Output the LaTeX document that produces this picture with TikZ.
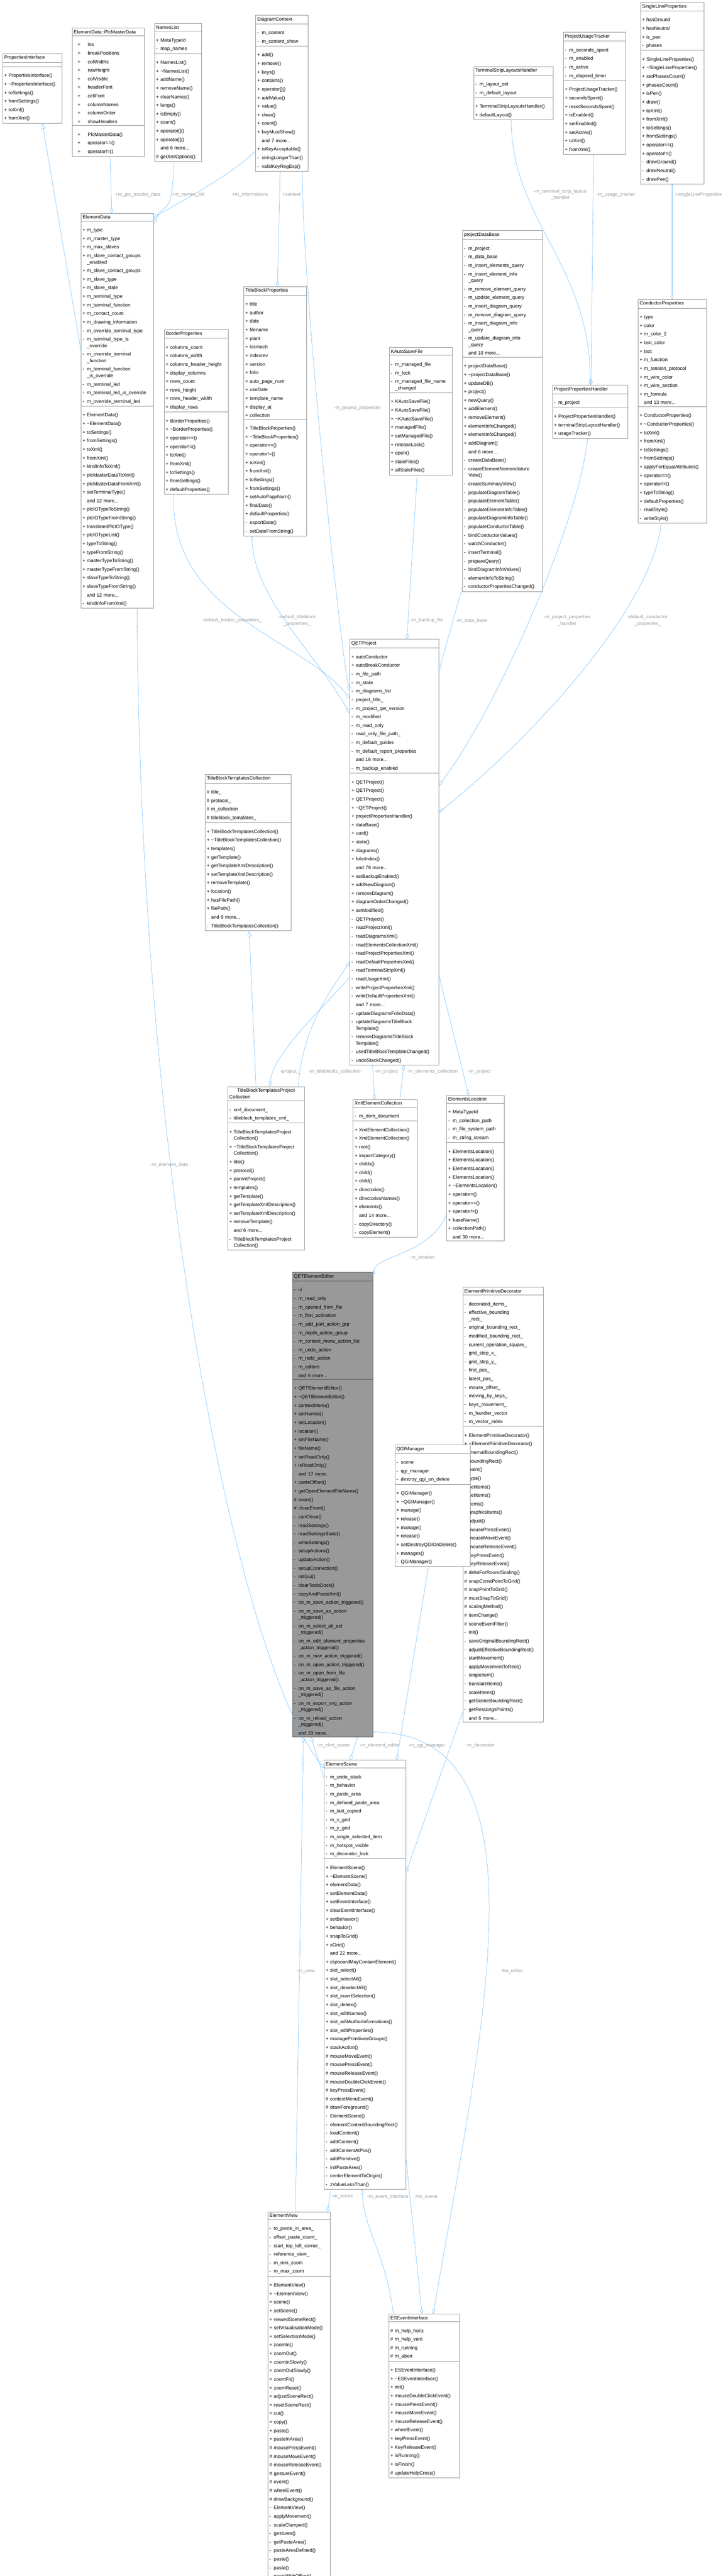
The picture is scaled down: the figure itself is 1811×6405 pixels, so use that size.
\documentclass[tikz,border=0pt]{standalone}
\usepackage{fontspec}
\setmainfont{Liberation Sans}
\usetikzlibrary{shapes.multipart,arrows.meta}
\definecolor{boxgray}{HTML}{999999}
\definecolor{curfill}{HTML}{999999}
\definecolor{curdraw}{HTML}{666666}
\definecolor{edgeblue}{HTML}{63B8FF}
\definecolor{lblgray}{HTML}{9A9A9A}
\setlength\parindent{0pt}
\setlength\parskip{0pt}
\newcommand\clsfont{\fontsize{12}{21.3}\selectfont}
\newcommand\mb[2]{\par\makebox[11pt][l]{#1}#2}
\newcommand\mw[3]{\par\makebox[11pt][l]{#1}#2\par\vspace{-5.3pt}\hspace*{11pt}#3}
\newcommand\mbi[2]{\par\hspace*{10pt}\makebox[25pt][l]{#1}#2}
\newcommand\andmore[1]{\par\hspace*{11pt}and #1 more...}
\tikzset{
  cls/.style={draw=boxgray, fill=white, line width=0.8pt, rectangle split, rectangle split parts=3,
    anchor=north west, inner xsep=4pt, inner ysep=4.8pt, font=\clsfont, text width=#1},
  cur/.style={cls=#1, fill=curfill, draw=curdraw},
  agg/.style={draw=edgeblue, line width=0.7pt, {Diamond[open,length=14pt,width=8pt]}-},
  inh/.style={draw=edgeblue, line width=0.7pt, -{Triangle[open,length=14pt,width=10pt]}},
  lbl/.style={font=\fontsize{12}{15.5}\selectfont, text=lblgray, align=center, inner sep=1pt}
}
\begin{document}
\begin{tikzpicture}[x=1pt,y=-1pt]
\useasboundingbox (0,0) rectangle (1811,6405);
% top row
\node[cls=140pt] (pi) at (6,133) {\centering PropertiesInterface
  \nodepart{two}\mbox{}
  \nodepart{three}\mb{+}{PropertiesInterface()}\mb{+}{\textasciitilde PropertiesInterface()}\mb{+}{toSettings()}\mb{+}{fromSettings()}\mb{+}{toXml()}\mb{+}{fromXml()}};
\node[cls=172pt] (pmd) at (179,69) {\centering ElementData::PlcMasterData
  \nodepart{two}\mbi{+}{ios}\mbi{+}{breakPositions}\mbi{+}{colWidths}\mbi{+}{rowHeight}\mbi{+}{colVisible}\mbi{+}{headerFont}\mbi{+}{cellFont}\mbi{+}{columnNames}\mbi{+}{columnOrder}\mbi{+}{showHeaders}
  \nodepart{three}\mbi{+}{PlcMasterData()}\mbi{+}{operator==()}\mbi{+}{operator!=()}};
\node[cls=109pt] (nl) at (384,58) {\centering NamesList
  \nodepart{two}\mb{+}{MetaTypeId}\mb{-}{map\_names}
  \nodepart{three}\mb{+}{NamesList()}\mb{+}{\textasciitilde NamesList()}\mb{+}{addName()}\mb{+}{removeName()}\mb{+}{clearNames()}\mb{+}{langs()}\mb{+}{isEmpty()}\mb{+}{count()}\mb{+}{operator[]()}\mb{+}{operator[]()}\andmore{6}\mb{\#}{getXmlOptions()}};
\node[cls=122pt] (dc) at (636,37) {\centering DiagramContext
  \nodepart{two}\mb{-}{m\_content}\mb{-}{m\_content\_show}
  \nodepart{three}\mb{+}{add()}\mb{+}{remove()}\mb{+}{keys()}\mb{+}{contains()}\mb{+}{operator[]()}\mb{+}{addValue()}\mb{+}{value()}\mb{+}{clear()}\mb{+}{count()}\mb{+}{keyMustShow()}\andmore{7}\mb{+}{isKeyAcceptable()}\mb{-}{stringLongerThan()}\mb{-}{validKeyRegExp()}};
\node[cls=190pt] (tslh) at (1178,165) {\centering TerminalStripLayoutsHandler
  \nodepart{two}\mb{-}{m\_layout\_set}\mb{-}{m\_default\_layout}
  \nodepart{three}\mb{+}{TerminalStripLayoutsHandler()}\mb{+}{defaultLayout()}};
\node[cls=147pt] (put) at (1401,80) {\centering ProjectUsageTracker
  \nodepart{two}\mb{-}{m\_seconds\_spent}\mb{-}{m\_enabled}\mb{-}{m\_active}\mb{-}{m\_elapsed\_timer}
  \nodepart{three}\mb{+}{ProjectUsageTracker()}\mb{+}{secondsSpent()}\mb{+}{resetSecondsSpent()}\mb{+}{isEnabled()}\mb{+}{setEnabled()}\mb{+}{setActive()}\mb{+}{toXml()}\mb{+}{fromXml()}};
\node[cls=150pt] (slp) at (1593,5) {\centering SingleLineProperties
  \nodepart{two}\mb{+}{hasGround}\mb{+}{hasNeutral}\mb{+}{is\_pen}\mb{-}{phases}
  \nodepart{three}\mb{+}{SingleLineProperties()}\mb{+}{\textasciitilde SingleLineProperties()}\mb{+}{setPhasesCount()}\mb{+}{phasesCount()}\mb{+}{isPen()}\mb{+}{draw()}\mb{+}{toXml()}\mb{+}{fromXml()}\mb{+}{toSettings()}\mb{+}{fromSettings()}\mb{+}{operator==()}\mb{+}{operator!=()}\mb{-}{drawGround()}\mb{-}{drawNeutral()}\mb{-}{drawPen()}};
% second row
\node[cls=173pt] (ed) at (201,530) {\centering ElementData
  \nodepart{two}\mb{+}{m\_type}\mb{+}{m\_master\_type}\mb{+}{m\_max\_slaves}\mw{+}{m\_slave\_contact\_groups}{\_enabled}\mb{+}{m\_slave\_contact\_groups}\mb{+}{m\_slave\_type}\mb{+}{m\_slave\_state}\mb{+}{m\_terminal\_type}\mb{+}{m\_terminal\_function}\mb{+}{m\_contact\_count}\mb{+}{m\_drawing\_information}\mb{-}{m\_override\_terminal\_type}\mw{-}{m\_terminal\_type\_is}{\_override}\mw{-}{m\_override\_terminal}{\_function}\mw{-}{m\_terminal\_function}{\_is\_override}\mb{-}{m\_terminal\_led}\mb{-}{m\_terminal\_led\_is\_override}\mb{-}{m\_override\_terminal\_led}
  \nodepart{three}\mb{+}{ElementData()}\mb{+}{\textasciitilde ElementData()}\mb{+}{toSettings()}\mb{+}{fromSettings()}\mb{+}{toXml()}\mb{+}{fromXml()}\mb{+}{kindInfoToXml()}\mb{+}{plcMasterDataToXml()}\mb{+}{plcMasterDataFromXml()}\mb{+}{setTerminalType()}\andmore{12}\mb{+}{plcIOTypeToString()}\mb{+}{plcIOTypeFromString()}\mb{+}{translatedPlcIOType()}\mb{+}{plcIOTypeList()}\mb{+}{typeToString()}\mb{+}{typeFromString()}\mb{+}{masterTypeToString()}\mb{+}{masterTypeFromString()}\mb{+}{slaveTypeToString()}\mb{+}{slaveTypeFromString()}\andmore{12}\mb{-}{kindInfoFromXml()}};
\node[cls=191pt] (pdb) at (1150,573) {\centering projectDataBase
  \nodepart{two}\mb{-}{m\_project}\mb{-}{m\_data\_base}\mb{-}{m\_insert\_elements\_query}\mw{-}{m\_insert\_element\_info}{\_query}\mb{-}{m\_remove\_element\_query}\mb{-}{m\_update\_element\_query}\mb{-}{m\_insert\_diagram\_query}\mb{-}{m\_remove\_diagram\_query}\mw{-}{m\_insert\_diagram\_info}{\_query}\mw{-}{m\_update\_diagram\_info}{\_query}\andmore{10}
  \nodepart{three}\mb{+}{projectDataBase()}\mb{+}{\textasciitilde projectDataBase()}\mb{+}{updateDB()}\mb{+}{project()}\mb{+}{newQuery()}\mb{+}{addElement()}\mb{+}{removeElement()}\mb{+}{elementInfoChanged()}\mb{+}{elementInfoChanged()}\mb{+}{addDiagram()}\andmore{6}\mb{-}{createDataBase()}\mw{-}{createElementNomenclature}{View()}\mb{-}{createSummaryView()}\mb{-}{populateDiagramTable()}\mb{-}{populateElementTable()}\mb{-}{populateElementInfoTable()}\mb{-}{populateDiagramInfoTable()}\mb{-}{populateConductorTable()}\mb{-}{bindConductorValues()}\mb{-}{watchConductor()}\mb{-}{insertTerminal()}\mb{-}{prepareQuery()}\mb{-}{bindDiagramInfoValues()}\mb{-}{elementInfoToString()}\mb{-}{conductorPropertiesChanged()}};
\node[cls=152pt] (bp) at (408,819) {\centering BorderProperties
  \nodepart{two}\mb{+}{columns\_count}\mb{+}{columns\_width}\mb{+}{columns\_header\_height}\mb{+}{display\_columns}\mb{+}{rows\_count}\mb{+}{rows\_height}\mb{+}{rows\_header\_width}\mb{+}{display\_rows}
  \nodepart{three}\mb{+}{BorderProperties()}\mb{+}{\textasciitilde BorderProperties()}\mb{+}{operator==()}\mb{+}{operator!=()}\mb{+}{toXml()}\mb{+}{fromXml()}\mb{+}{toSettings()}\mb{+}{fromSettings()}\mb{+}{defaultProperties()}};
\node[cls=148pt] (tbp) at (606,712) {\centering TitleBlockProperties
  \nodepart{two}\mb{+}{title}\mb{+}{author}\mb{+}{date}\mb{+}{filename}\mb{+}{plant}\mb{+}{locmach}\mb{+}{indexrev}\mb{+}{version}\mb{+}{folio}\mb{+}{auto\_page\_num}\mb{+}{useDate}\mb{+}{template\_name}\mb{+}{display\_at}\mb{+}{collection}
  \nodepart{three}\mb{+}{TitleBlockProperties()}\mb{+}{\textasciitilde TitleBlockProperties()}\mb{+}{operator==()}\mb{+}{operator!=()}\mb{+}{toXml()}\mb{+}{fromXml()}\mb{+}{toSettings()}\mb{+}{fromSettings()}\mb{+}{setAutoPageNum()}\mb{+}{finalDate()}\mb{+}{defaultProperties()}\mb{-}{exportDate()}\mb{-}{setDateFromString()}};
\node[cls=149pt] (kasf) at (968,864) {\centering KAutoSaveFile
  \nodepart{two}\mb{-}{m\_managed\_file}\mb{-}{m\_lock}\mw{-}{m\_managed\_file\_name}{\_changed}
  \nodepart{three}\mb{+}{KAutoSaveFile()}\mb{+}{KAutoSaveFile()}\mb{+}{\textasciitilde KAutoSaveFile()}\mb{+}{managedFile()}\mb{+}{setManagedFile()}\mb{+}{releaseLock()}\mb{+}{open()}\mb{+}{staleFiles()}\mb{+}{allStaleFiles()}};
\node[cls=180pt] (pph) at (1374,957) {\centering ProjectPropertiesHandler
  \nodepart{two}\mb{-}{m\_project}
  \nodepart{three}\mb{+}{ProjectPropertiesHandler()}\mb{+}{terminalStripLayoutHandler()}\mb{+}{usageTracker()}};
\node[cls=162pt] (cp) at (1587,744) {\centering ConductorProperties
  \nodepart{two}\mb{+}{type}\mb{+}{color}\mb{+}{m\_color\_2}\mb{+}{text\_color}\mb{+}{text}\mb{+}{m\_function}\mb{+}{m\_tension\_protocol}\mb{+}{m\_wire\_color}\mb{+}{m\_wire\_section}\mb{+}{m\_formula}\andmore{13}
  \nodepart{three}\mb{+}{ConductorProperties()}\mb{+}{\textasciitilde ConductorProperties()}\mb{+}{toXml()}\mb{+}{fromXml()}\mb{+}{toSettings()}\mb{+}{fromSettings()}\mb{+}{applyForEqualAttributes()}\mb{+}{operator==()}\mb{+}{operator!=()}\mb{+}{typeToString()}\mb{+}{defaultProperties()}\mb{-}{readStyle()}\mb{-}{writeStyle()}};
% project
\node[cls=214pt] (qp) at (870,1589) {\centering QETProject
  \nodepart{two}\mb{+}{autoConductor}\mb{+}{autoBreakConductor}\mb{-}{m\_file\_path}\mb{-}{m\_state}\mb{-}{m\_diagrams\_list}\mb{-}{project\_title\_}\mb{-}{m\_project\_qet\_version}\mb{-}{m\_modified}\mb{-}{m\_read\_only}\mb{-}{read\_only\_file\_path\_}\mb{-}{m\_default\_guides}\mb{-}{m\_default\_report\_properties}\andmore{16}\mb{-}{m\_backup\_enabled}
  \nodepart{three}\mb{+}{QETProject()}\mb{+}{QETProject()}\mb{+}{QETProject()}\mb{+}{\textasciitilde QETProject()}\mb{+}{projectPropertiesHandler()}\mb{+}{dataBase()}\mb{+}{uuid()}\mb{+}{state()}\mb{+}{diagrams()}\mb{+}{folioIndex()}\andmore{79}\mb{+}{setBackupEnabled()}\mb{+}{addNewDiagram()}\mb{+}{removeDiagram()}\mb{+}{diagramOrderChanged()}\mb{+}{setModified()}\mb{-}{QETProject()}\mb{-}{readProjectXml()}\mb{-}{readDiagramsXml()}\mb{-}{readElementsCollectionXml()}\mb{-}{readProjectPropertiesXml()}\mb{-}{readDefaultPropertiesXml()}\mb{-}{readTerminalStripXml()}\mb{-}{readUsageXml()}\mb{-}{writeProjectPropertiesXml()}\mb{-}{writeDefaultPropertiesXml()}\andmore{7}\mb{-}{updateDiagramsFolioData()}\mw{-}{updateDiagramsTitleBlock}{Template()}\mw{-}{removeDiagramsTitleBlock}{Template()}\mb{-}{usedTitleBlockTemplateChanged()}\mb{-}{undoStackChanged()}};
\node[cls=206pt] (tbtc) at (510,1925) {\centering TitleBlockTemplatesCollection
  \nodepart{two}\mb{\#}{title\_}\mb{\#}{protocol\_}\mb{\#}{m\_collection}\mb{\#}{titleblock\_templates\_}
  \nodepart{three}\mb{+}{TitleBlockTemplatesCollection()}\mb{+}{\textasciitilde TitleBlockTemplatesCollection()}\mb{+}{templates()}\mb{+}{getTemplate()}\mb{+}{getTemplateXmlDescription()}\mb{+}{setTemplateXmlDescription()}\mb{+}{removeTemplate()}\mb{+}{location()}\mb{+}{hasFilePath()}\mb{+}{filePath()}\andmore{9}\mb{-}{TitleBlockTemplatesCollection()}};
\node[cls=183pt] (tbtpc) at (566,2701) {\centering TitleBlockTemplatesProject\par\vspace{-5.3pt}Collection
  \nodepart{two}\mb{-}{xml\_document\_}\mb{-}{titleblock\_templates\_xml\_}
  \nodepart{three}\mw{+}{TitleBlockTemplatesProject}{Collection()}\mw{+}{\textasciitilde TitleBlockTemplatesProject}{Collection()}\mb{+}{title()}\mb{+}{protocol()}\mb{+}{parentProject()}\mb{+}{templates()}\mb{+}{getTemplate()}\mb{+}{getTemplateXmlDescription()}\mb{+}{setTemplateXmlDescription()}\mb{+}{removeTemplate()}\andmore{6}\mw{-}{TitleBlockTemplatesProject}{Collection()}};
\node[cls=151pt] (xec) at (878,2733) {\centering XmlElementCollection
  \nodepart{two}\mb{-}{m\_dom\_document}
  \nodepart{three}\mb{+}{XmlElementCollection()}\mb{+}{XmlElementCollection()}\mb{+}{root()}\mb{+}{importCategory()}\mb{+}{childs()}\mb{+}{child()}\mb{+}{child()}\mb{+}{directories()}\mb{+}{directoriesNames()}\mb{+}{elements()}\andmore{14}\mb{-}{copyDirectory()}\mb{-}{copyElement()}};
\node[cls=135pt] (el) at (1111,2723) {\centering ElementsLocation
  \nodepart{two}\mb{+}{MetaTypeId}\mb{-}{m\_collection\_path}\mb{-}{m\_file\_system\_path}\mb{-}{m\_string\_stream}
  \nodepart{three}\mb{+}{ElementsLocation()}\mb{+}{ElementsLocation()}\mb{+}{ElementsLocation()}\mb{+}{ElementsLocation()}\mb{+}{\textasciitilde ElementsLocation()}\mb{+}{operator=()}\mb{+}{operator==()}\mb{+}{operator!=()}\mb{+}{baseName()}\mb{+}{collectionPath()}\andmore{30}};
% editor
\node[cur=192pt] (qee) at (727,3163) {\centering QETElementEditor
  \nodepart{two}\mb{-}{ui}\mb{-}{m\_read\_only}\mb{-}{m\_opened\_from\_file}\mb{-}{m\_first\_activation}\mb{-}{m\_add\_part\_action\_grp}\mb{-}{m\_depth\_action\_group}\mb{-}{m\_context\_menu\_action\_list}\mb{-}{m\_undo\_action}\mb{-}{m\_redo\_action}\mb{-}{m\_editors}\andmore{6}
  \nodepart{three}\mb{+}{QETElementEditor()}\mb{+}{\textasciitilde QETElementEditor()}\mb{+}{contextMenu()}\mb{+}{setNames()}\mb{+}{setLocation()}\mb{+}{location()}\mb{+}{setFileName()}\mb{+}{fileName()}\mb{+}{setReadOnly()}\mb{+}{isReadOnly()}\andmore{17}\mb{+}{pasteOffset()}\mb{+}{getOpenElementFileName()}\mb{\#}{event()}\mb{\#}{closeEvent()}\mb{-}{canClose()}\mb{-}{readSettings()}\mb{-}{readSettingsState()}\mb{-}{writeSettings()}\mb{-}{setupActions()}\mb{-}{updateAction()}\mb{-}{setupConnection()}\mb{-}{initGui()}\mb{-}{clearToolsDock()}\mb{-}{copyAndPasteXml()}\mb{-}{on\_m\_save\_action\_triggered()}\mw{-}{on\_m\_save\_as\_action}{\_triggered()}\mw{-}{on\_m\_select\_all\_act}{\_triggered()}\mw{-}{on\_m\_edit\_element\_properties}{\_action\_triggered()}\mb{-}{on\_m\_new\_action\_triggered()}\mb{-}{on\_m\_open\_action\_triggered()}\mw{-}{on\_m\_open\_from\_file}{\_action\_triggered()}\mw{-}{on\_m\_save\_as\_file\_action}{\_triggered()}\mw{-}{on\_m\_export\_svg\_action}{\_triggered()}\mw{-}{on\_m\_reload\_action}{\_triggered()}\andmore{23}};
\node[cls=192pt] (epd) at (1151,3200) {\centering ElementPrimitiveDecorator
  \nodepart{two}\mb{-}{decorated\_items\_}\mw{-}{effective\_bounding}{\_rect\_}\mb{-}{original\_bounding\_rect\_}\mb{-}{modified\_bounding\_rect\_}\mb{-}{current\_operation\_square\_}\mb{-}{grid\_step\_x\_}\mb{-}{grid\_step\_y\_}\mb{-}{first\_pos\_}\mb{-}{latest\_pos\_}\mb{-}{mouse\_offset\_}\mb{-}{moving\_by\_keys\_}\mb{-}{keys\_movement\_}\mb{-}{m\_handler\_vector}\mb{-}{m\_vector\_index}
  \nodepart{three}\mb{+}{ElementPrimitiveDecorator()}\mb{+}{\textasciitilde ElementPrimitiveDecorator()}\mb{+}{internalBoundingRect()}\mb{+}{boundingRect()}\mb{+}{paint()}\mb{+}{type()}\mb{+}{setItems()}\mb{+}{setItems()}\mb{+}{items()}\mb{+}{graphicsItems()}\mb{+}{adjust()}\mb{\#}{mousePressEvent()}\mb{\#}{mouseMoveEvent()}\mb{\#}{mouseReleaseEvent()}\mb{\#}{keyPressEvent()}\mb{\#}{keyReleaseEvent()}\mb{\#}{deltaForRoundScaling()}\mb{\#}{snapConstPointToGrid()}\mb{\#}{snapPointToGrid()}\mb{\#}{mustSnapToGrid()}\mb{\#}{scalingMethod()}\mb{\#}{itemChange()}\mb{\#}{sceneEventFilter()}\mb{-}{init()}\mb{-}{saveOriginalBoundingRect()}\mb{-}{adjustEffectiveBoundingRect()}\mb{-}{startMovement()}\mb{-}{applyMovementToRect()}\mb{-}{singleItem()}\mb{-}{translateItems()}\mb{-}{scaleItems()}\mb{-}{getSceneBoundingRect()}\mb{-}{getResizingsPoints()}\andmore{6}};
\node[cls=179pt] (qgim) at (982,3592) {\centering QGIManager
  \nodepart{two}\mb{-}{scene}\mb{-}{qgi\_manager}\mb{-}{destroy\_qgi\_on\_delete}
  \nodepart{three}\mb{+}{QGIManager()}\mb{+}{\textasciitilde QGIManager()}\mb{+}{manage()}\mb{+}{release()}\mb{+}{manage()}\mb{+}{release()}\mb{+}{setDestroyQGIOnDelete()}\mb{+}{manages()}\mb{-}{QGIManager()}};
\node[cls=195pt] (es) at (806,4376) {\centering ElementScene
  \nodepart{two}\mb{-}{m\_undo\_stack}\mb{-}{m\_behavior}\mb{-}{m\_paste\_area}\mb{-}{m\_defined\_paste\_area}\mb{-}{m\_last\_copied}\mb{-}{m\_x\_grid}\mb{-}{m\_y\_grid}\mb{-}{m\_single\_selected\_item}\mb{-}{m\_hotspot\_visible}\mb{-}{m\_decorator\_lock}
  \nodepart{three}\mb{+}{ElementScene()}\mb{+}{\textasciitilde ElementScene()}\mb{+}{elementData()}\mb{+}{setElementData()}\mb{+}{setEventInterface()}\mb{+}{clearEventInterface()}\mb{+}{setBehavior()}\mb{+}{behavior()}\mb{+}{snapToGrid()}\mb{+}{xGrid()}\andmore{22}\mb{+}{clipboardMayContainElement()}\mb{+}{slot\_select()}\mb{+}{slot\_selectAll()}\mb{+}{slot\_deselectAll()}\mb{+}{slot\_invertSelection()}\mb{+}{slot\_delete()}\mb{+}{slot\_editNames()}\mb{+}{slot\_editAuthorInformations()}\mb{+}{slot\_editProperties()}\mb{+}{managePrimitivesGroups()}\mb{+}{stackAction()}\mb{\#}{mouseMoveEvent()}\mb{\#}{mousePressEvent()}\mb{\#}{mouseReleaseEvent()}\mb{\#}{mouseDoubleClickEvent()}\mb{\#}{keyPressEvent()}\mb{\#}{contextMenuEvent()}\mb{\#}{drawForeground()}\mb{-}{ElementScene()}\mb{-}{elementContentBoundingRect()}\mb{-}{loadContent()}\mb{-}{addContent()}\mb{-}{addContentAtPos()}\mb{-}{addPrimitive()}\mb{-}{initPasteArea()}\mb{-}{centerElementToOrigin()}\mb{-}{zValueLessThan()}};
\node[cls=147pt] (ev) at (666,5499) {\centering ElementView
  \nodepart{two}\mb{-}{to\_paste\_in\_area\_}\mb{-}{offset\_paste\_count\_}\mb{-}{start\_top\_left\_corner\_}\mb{-}{reference\_view\_}\mb{-}{m\_min\_zoom}\mb{-}{m\_max\_zoom}
  \nodepart{three}\mb{+}{ElementView()}\mb{+}{\textasciitilde ElementView()}\mb{+}{scene()}\mb{+}{setScene()}\mb{+}{viewedSceneRect()}\mb{+}{setVisualisationMode()}\mb{+}{setSelectionMode()}\mb{+}{zoomIn()}\mb{+}{zoomOut()}\mb{+}{zoomInSlowly()}\mb{+}{zoomOutSlowly()}\mb{+}{zoomFit()}\mb{+}{zoomReset()}\mb{+}{adjustSceneRect()}\mb{+}{resetSceneRect()}\mb{+}{cut()}\mb{+}{copy()}\mb{+}{paste()}\mb{+}{pasteInArea()}\mb{\#}{mousePressEvent()}\mb{\#}{mouseMoveEvent()}\mb{\#}{mouseReleaseEvent()}\mb{\#}{gestureEvent()}\mb{\#}{event()}\mb{\#}{wheelEvent()}\mb{\#}{drawBackground()}\mb{-}{ElementView()}\mb{-}{applyMovement()}\mb{-}{scaleClamped()}\mb{-}{gestures()}\mb{-}{getPasteArea()}\mb{-}{pasteAreaDefined()}\mb{-}{paste()}\mb{-}{paste()}\mb{-}{pasteWithOffset()}};
\node[cls=167pt] (esei) at (967,5753) {\centering ESEventInterface
  \nodepart{two}\mb{\#}{m\_help\_horiz}\mb{\#}{m\_help\_verti}\mb{\#}{m\_running}\mb{\#}{m\_abort}
  \nodepart{three}\mb{+}{ESEventInterface()}\mb{+}{\textasciitilde ESEventInterface()}\mb{+}{init()}\mb{+}{mouseDoubleClickEvent()}\mb{+}{mousePressEvent()}\mb{+}{mouseMoveEvent()}\mb{+}{mouseReleaseEvent()}\mb{+}{wheelEvent()}\mb{+}{keyPressEvent()}\mb{+}{KeyReleaseEvent()}\mb{+}{isRunning()}\mb{+}{isFinish()}\mb{\#}{updateHelpCross()}};
% connectors
\draw[inh] ([shift={(0,340)}]ed.north west) -- ([xshift=25pt]pi.south);
\draw[agg] ([shift={(77,0)}]ed.north west) -- ([shift={(95,0)}]pmd.south west);
\draw[agg] ([shift={(0,26)}]ed.north east) .. controls +(25,-60) and +(-5,150) .. ([shift={(49,0)}]nl.south west);
\draw[agg] ([shift={(0,10)}]ed.north east) .. controls +(70,-40) and +(-60,60) .. ([shift={(0,338)}]dc.north west);
\draw[agg] ([xshift=6pt]tbp.north) -- ([shift={(61,0)}]dc.south west);
\draw[agg] ([shift={(0,128)}]qp.north west) .. controls +(-20,-80) and +(0,300) .. ([shift={(116,0)}]dc.south west);
\draw[agg] ([shift={(0,147)}]qp.north west) .. controls +(-120,-150) and +(-10,300) .. ([shift={(24,0)}]bp.south west);
\draw[agg] ([shift={(0,184)}]qp.north west) .. controls +(-100,-170) and +(0,150) .. ([shift={(21,0)}]tbp.south west);
\draw[agg] ([xshift=31pt]qp.north) -- ([shift={(70,0)}]kasf.south west);
\draw[agg] ([shift={(0,77)}]qp.north east) -- ([shift={(0,-10)}]pdb.south west);
\draw[agg] ([shift={(0,363)}]qp.north east) .. controls +(150,-200) and +(-20,200) .. ([shift={(88,0)}]pph.south west);
\draw[agg] ([shift={(0,430)}]qp.north east) .. controls +(250,-200) and +(-20,200) .. ([shift={(58,0)}]cp.south west);
\draw[agg] (pph.north) .. controls +(0,-300) and +(0,250) .. ([shift={(94,0)}]tslh.south west);
\draw[agg] ([xshift=2pt]pph.north) -- ([shift={(76,0)}]put.south west);
\draw[agg] (cp.north) -- (slp.south);
\draw[agg] ([shift={(0,20)}]es.north west) .. controls +(-200,-250) and +(10,1500) .. ([shift={(140,0)}]ed.south west);
\draw[agg] ([shift={(0,803)}]qp.north west) .. controls +(-40,60) and +(10,-150) .. ([shift={(176,0)}]tbtpc.north west);
\draw[agg] ([shift={(105,0)}]tbtpc.north west) .. controls +(10,-80) and +(-90,100) .. ([shift={(0,841)}]qp.north west);
\draw[inh] ([shift={(71,0)}]tbtpc.north west) -- ([shift={(110,0)}]tbtc.south west);
\draw[agg] ([shift={(54,0)}]xec.north west) -- ([shift={(57,0)}]qp.south west);
\draw[agg] ([shift={(135,0)}]qp.south west) -- ([shift={(117,0)}]xec.north west);
\draw[agg] ([shift={(55,0)}]el.north west) -- ([shift={(0,838)}]qp.north east);
\draw[agg] ([shift={(0,8)}]qee.north east) .. controls +(10,-50) and +(-40,100) .. ([shift={(0,296)}]el.north west);
\draw[agg] ([shift={(28,0)}]qee.south west) -- ([shift={(69,0)}]ev.north west);
\draw[agg] ([shift={(47,0)}]qee.south west) -- ([shift={(0,44)}]es.north west);
\draw[agg] ([shift={(65,0)}]es.north west) -- ([shift={(163,0)}]qee.south west);
\draw[agg] ([shift={(181,0)}]es.north west) -- ([shift={(84,0)}]qgim.south west);
\draw[agg] ([shift={(0,281)}]es.north east) -- ([shift={(0,-25)}]epd.south west);
\draw[agg] ([shift={(111,0)}]esei.north west) .. controls +(120,-700) and +(450,0) .. ([shift={(0,-13)}]qee.south east);
\draw[agg] ([shift={(83,0)}]esei.north west) -- ([shift={(0,-83)}]es.south east);
\draw[agg] ([shift={(95,0)}]es.south west) .. controls +(5,100) and +(-20,-150) .. ([shift={(12,0)}]esei.north west);
\draw[agg] ([shift={(-7,0)}]ev.north east) -- ([shift={(18,0)}]es.south west);
% labels
\node[lbl] (l1) at (343,484) {+m\_plc\_master\_data};
\node[lbl] (l2) at (468,484) {+m\_names\_list};
\node[lbl] (l3) at (622,484) {+m\_informations};
\node[lbl] (l4) at (725,484) {+context};
\node[lbl] (l5) at (1394,484) {-m\_terminal\_strip\_layout\\\_handler};
\node[lbl] (l6) at (1532,484) {-m\_usage\_tracker};
\node[lbl] (l7) at (1738,484) {+singleLineProperties};
\node[lbl] (l8) at (889,1014) {-m\_project\_properties};
\node[lbl] (l9) at (577,1543) {-default\_border\_properties\_};
\node[lbl] (l10) at (739,1543) {-default\_titleblock\\\_properties\_};
\node[lbl] (l11) at (1062,1543) {-m\_backup\_file};
\node[lbl] (l12) at (1174,1543) {-m\_data\_base};
\node[lbl] (l13) at (1411,1543) {-m\_project\_properties\\\_handler};
\node[lbl] (l14) at (1611,1543) {-default\_conductor\\\_properties\_};
\node[lbl] (l15) at (421,2896) {-m\_element\_data};
\node[lbl] (l16) at (721,2665) {-project\_};
\node[lbl] (l17) at (832,2665) {-m\_titleblocks\_collection};
\node[lbl] (l18) at (962,2665) {-m\_project};
\node[lbl] (l19) at (1076,2665) {-m\_elements\_collection};
\node[lbl] (l20) at (1193,2665) {-m\_project};
\node[lbl] (l21) at (1051,3127) {-m\_location};
\node[lbl] (l22) at (830,4340) {-m\_elmt\_scene};
\node[lbl] (l23) at (945,4340) {-m\_element\_editor};
\node[lbl] (l24) at (1062,4340) {-m\_qgi\_manager};
\node[lbl] (l25) at (1195,4340) {-m\_decorator};
\node[lbl] (l26) at (761,4901) {-m\_view};
\node[lbl] (l27) at (1275,4901) {\#m\_editor};
\node[lbl] (l28) at (852,5462) {-m\_scene};
\node[lbl] (l29) at (965,5462) {-m\_event\_interface};
\node[lbl] (l30) at (1061,5462) {\#m\_scene};
\end{tikzpicture}
\end{document}
